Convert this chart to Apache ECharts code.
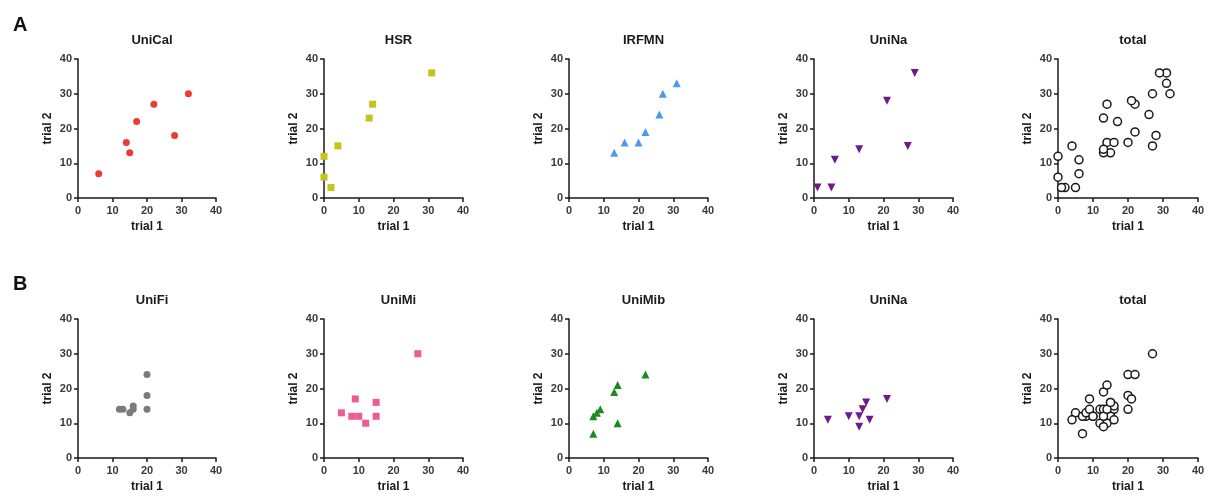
<!DOCTYPE html>
<html><head><meta charset="utf-8">
<script src="https://cdn.jsdelivr.net/npm/echarts@6/dist/echarts.min.js"></script>
<style>html,body{margin:0;padding:0;background:#fff}#c{width:1208px;height:497px}</style>
</head><body><div id="c"></div>
<script>
// ---- data (trial 1, trial 2) ----
const uniCal = [[6,7],[14,16],[15,13],[17,22],[22,27],[28,18],[32,30]];
const hsr    = [[0,12],[0,6],[2,3],[4,15],[13,23],[14,27],[31,36]];
const irfmn  = [[13,13],[16,16],[20,16],[22,19],[26,24],[27,30],[31,33]];
const uniNaA = [[1,3],[5,3],[6,11],[13,14],[21,28],[27,15],[29,36]];
const totalA = [].concat(uniCal, hsr, irfmn, uniNaA);

const uniFi  = [[12,14],[13,14],[15,13],[16,14],[16,15],[20,24],[20,18],[20,14]];
const uniMi  = [[5,13],[8,12],[9,17],[10,12],[12,10],[15,16],[15,12],[27,30]];
const uniMib = [[7,7],[7,12],[8,13],[9,14],[13,19],[14,21],[14,10],[22,24]];
const uniNaB = [[4,11],[10,12],[13,12],[13,9],[14,14],[15,16],[16,11],[21,17]];
const totalB = [].concat(uniFi, uniMi, uniMib, uniNaB);

const titles = ['UniCal','HSR','IRFMN','UniNa','total','UniFi','UniMi','UniMib','UniNa','total'];
const datasets = [uniCal, hsr, irfmn, uniNaA, totalA, uniFi, uniMi, uniMib, uniNaB, totalB];
const axisTicks = [0,10,20,30,40];
const xName = 'trial 1', yName = 'trial 2';
const panelLetters = ['A','B'];

// ---- styles / layout ----
const styles = [
  {symbol:'circle', color:'#ec3b35'},
  {symbol:'rect', color:'#c6c31c'},
  {symbol:'triangle', color:'#4b9be8'},
  {symbol:'triangle', color:'#6d1a8e', rotate:180},
  {symbol:'circle', hollow:true},
  {symbol:'circle', color:'#7b7b7b'},
  {symbol:'rect', color:'#ef5b95'},
  {symbol:'triangle', color:'#1f8a1f'},
  {symbol:'triangle', color:'#6d1a8e', rotate:180},
  {symbol:'circle', hollow:true}
];
const lefts = [78, 324, 569, 814, 1058];
const widths = [138, 139, 139, 139, 140];
const tops = [59, 319];
const H = 139;

const grids = [], xAxes = [], yAxes = [], series = [], titleArr = [];
const axisLine = {show:true, onZero:false, lineStyle:{color:'#1a1a1a', width:1.5}};
const axisTick = {show:true, length:4, inside:false, lineStyle:{color:'#1a1a1a', width:1.5}};
const lbl = {color:'#3a3a3a', fontSize:11, fontWeight:'bold', fontFamily:'Liberation Sans'};
const nm = {color:'#1a1a1a', fontSize:12, fontWeight:'bold', fontFamily:'Liberation Sans'};

for (let i = 0; i < 10; i++) {
  const r = Math.floor(i/5), c = i%5;
  grids.push({left:lefts[c], top:tops[r], width:widths[c], height:H, containLabel:false});
  xAxes.push({type:'value', gridIndex:i, min:axisTicks[0], max:axisTicks[axisTicks.length-1], interval:10,
    axisLine, axisTick, splitLine:{show:false}, axisLabel:Object.assign({margin:7}, lbl),
    name:xName, nameLocation:'middle', nameGap:23, nameTextStyle:nm});
  yAxes.push({type:'value', gridIndex:i, min:axisTicks[0], max:axisTicks[axisTicks.length-1], interval:10,
    axisLine, axisTick, splitLine:{show:false}, axisLabel:Object.assign({margin:6}, lbl),
    name:yName, nameLocation:'middle', nameGap:24, nameTextStyle:nm});
  const s = styles[i];
  series.push({
    type:'scatter', xAxisIndex:i, yAxisIndex:i, data:datasets[i],
    symbol:s.symbol, symbolRotate:s.rotate||0,
    symbolSize: s.hollow ? 8 : (s.symbol==='triangle' ? 8 : 7),
    itemStyle: s.hollow ? {color:'#fff', borderColor:'#1a1a1a', borderWidth:1.5, opacity:1}
                        : {color:s.color, opacity:1},
    emphasis:{disabled:true}
  });
  titleArr.push({text:titles[i], left:lefts[c]+widths[c]/2, top:tops[r]-30, textAlign:'center',
    textStyle:{fontSize:13, fontWeight:'bold', color:'#1a1a1a', fontFamily:'Liberation Sans'}});
}
titleArr.push({text:panelLetters[0], left:8, top:10, textStyle:{fontSize:20, fontWeight:'bold', color:'#111', fontFamily:'Liberation Sans'}});
titleArr.push({text:panelLetters[1], left:8, top:269, textStyle:{fontSize:20, fontWeight:'bold', color:'#111', fontFamily:'Liberation Sans'}});

const chart = echarts.init(document.getElementById('c'), null, {renderer:'canvas'});
chart.setOption({animation:false, backgroundColor:'#fff', title:titleArr, grid:grids, xAxis:xAxes, yAxis:yAxes, series});
</script></body></html>
